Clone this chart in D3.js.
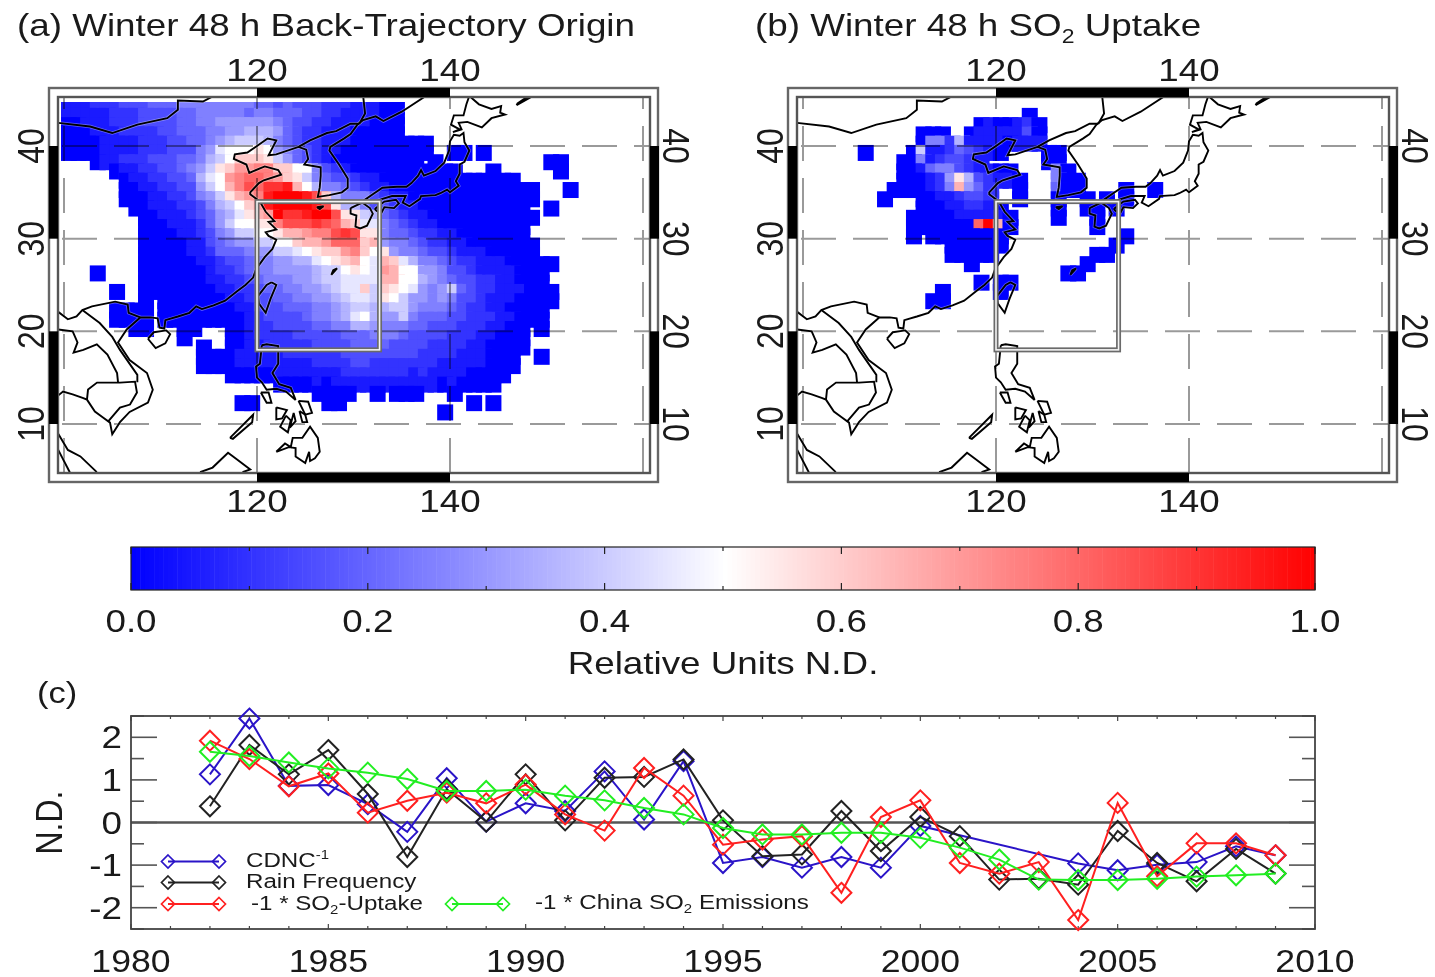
<!DOCTYPE html>
<html>
<head>
<meta charset="utf-8">
<script src="https://cdn.jsdelivr.net/npm/d3@7"></script>
<style>
  html, body { margin: 0; background: #fff; }
  svg { display: block; filter: blur(0.7px); }
  text { font-family: "Liberation Sans", Arial, sans-serif; fill: #1a1a1a; }
</style>
</head>
<body>
<div id="chart"></div>
<script>
const width = 1435;
const height = 977;

// heat map rows, one string per latitude from 44N down, columns from 100E.
// each char is the value in twentieths (0-9, a-k), "." is no data
const latTop = 44;
const lonLeft = 100;
const heatA = [
  "1112223334 4455555555 4434333222 11100",
  "1111122233 3344555554 5544433221 11100",
  "0011122233 3344556666 6654332211 11000",
  "0001112222 3344455667 7764322111 00000",
  "0000111122 2334456788 8754322111 00000000",
  "0000111122 2333569aaa ba65432110 00000000.. 00.0",
  "...0112223 3344578acc cb86432100 0000000.0. .......... 00",
  ".....01122 334568bcee ffccaa5321 0000000000 0...0..... .0",
  "......0112 233479aefg gfecb85433 2110000000 0000000",
  "......0011 223368adfh giijda7554 3211000000 000000000. ..0",
  "......0001 1223568bde fjkkkjhc75 5532110000 000000000",
  ".......001 11223578ac ejkkkkjhb7 7533211000 00000000.. 0",
  "........00 111234679b dekiijkkhb b874321100 000000000",
  "........00 01112468aa bbfhhhihgd c995432110 00000000",
  "........00 0011235688 aabddeffhi hbb5443221 10000000",
  "........00 0001134566 88aacddegg gcd6554322 110000000",
  "........00 0001124445 66889abcce fcab655433 211100000",
  "........00 0000112334 5566779abc da9dc97554 3221110000 0",
  "...0....00 0000012234 556666788a ba9edaa665 3321111000",
  "........00 0000011223 4555667889 999ddaa765 4332211000",
  ".....0..00 0000001122 3445566789 9c8cba9656 8432211100 0",
  "........0. 0000000112 3344556678 998ba86656 5332111000 0",
  ".....0000. 0000000011 3334445567 8877886555 4322110000",
  ".....0000. 0000000001 2333345567 9a76685444 3322211000",
  ".......00. ..00...001 2233334455 7765554433 32221100.0",
  ".......... ..0....001 2222333334 4455543333 22211000",
  ".......... ....0..001 1222223333 4444333322 22110000",
  ".......... ....000011 1112222223 3333333222 2111000..0",
  ".......... ....000011 1111112222 3322222221 1111000",
  ".......... .......000 0011111112 2222221211 110000",
  ".......... .......... ..00001011 1111111110 10000",
  ".......... .......... ......0000 ..0.000... 0",
  ".......... ........00 .......00. .......... ..0.0",
  ".......... .......... .......... .........0"
];
const heatB = [
  ".......... .......... .......... ",
  ".......... .......... ...0",
  ".......... ........01 00120",
  ".......... ..000..011 11130",
  ".......... ..05527111 10111",
  "......0... .081124321 0....00...",
  ".......... 005123321. .....00...",
  ".......... 0014553211 00....50..",
  ".......... 000126b732 110...500.",
  ".........0 000125d642 ..0...400. ...0..0",
  "........0. ..00112332 ..0...0..0 .0.0",
  ".......... ..00011221 0.....0..0 0.0",
  ".......... .000001111 10....0... 0",
  ".......... .0000000gk d0........ 0",
  ".......... .0.0000000 0......... ...0",
  ".......... .....00000 0......... ..0",
  ".......... .....00000 .......... 00",
  ".......... .......0.. .........0",
  ".......... .......... .......00.",
  ".......... ........0. 00",
  ".......... ....0..... 0",
  ".......... ...00"
];

const lonTicks = [120, 140];
const latTicks = [10, 20, 30, 40];
const lonGrid = [100, 120, 140, 160];
const boxLon = [120, 132.7];
const boxLat = [34, 18];
const barTicks = [0, 0.2, 0.4, 0.6, 0.8, 1];

// coast and border lines, lon/lat
const coastMain = [[99.2,9.3],[100.4,7.2],[101.7,6.5],[103.4,4.8]];
const coastMalayW = [[99.4,7.2],[100.6,4.8]];
const coastGulf = [[99.3,13],[99.9,13.5],[100.9,13.2],[102,12.8],[102.38,12.63],[103.2,11.34],[104.04,10.69],[104.77,10.15],[105,8.9],[105.8,10.2],[106.8,11.3],[108.7,12.3],[109.2,13.7],[108.6,15.5],[106.8,16.9],[105.6,18.8],[106.5,20.2],[107.9,21.5],[109,21.5],[109.7,21.4],[109.9,20.4],[110.4,20.3],[110.5,21.2],[111.8,21.6],[113,22],[113.7,22.7],[114.3,22.4],[115.5,22.8],[116.7,23.3],[117.9,24.3],[118.8,25],[119.6,25.8],[119.9,26.7],[120.8,28],[121.6,28.9],[122,29.9],[121.2,30.3],[120.9,30.7],[122,31],[121.2,31.8],[121.8,31.9],[120.9,32.9],[120.3,34],[119.3,34.8],[119.3,35],[120.2,36],[120.7,36.3],[122.5,36.9],[122.2,37.4],[120.8,37.8],[119.2,37.1],[118.9,38],[117.6,38.6],[117.7,39.1],[119,39.3],[120,40],[121.1,40.8],[122,40.6],[121.2,39],[122,39.1],[124.3,39.9],[125.1,39.6],[125.3,38.6],[124.9,38],[126.6,37.7],[126.6,36.8],[126.5,35.5],[126.3,34.5],[127.5,34.7],[128.8,35],[129.4,35.5],[129.4,36.5],[128.5,38],[127.5,39.5],[127.6,39.9],[129,40.8],[129.7,41.3],[130.4,42.3],[131,42.8],[132.3,43.2],[133.1,42.7],[135,43.7],[137.5,45.4]];
const borderMongolia = [[99.4,42.5],[102.7,42.1],[105,41.4],[107.6,42.3],[110.7,43],[111.8,43.9],[111.8,44.9],[114.4,44.8],[115.5,45.4]];
const borderKorea = [[124.3,39.9],[125.5,40.6],[127.25,41.4],[128.2,41.6],[129.7,42.4],[130.6,42.4]];
const borderRussia = [[130.6,42.4],[131.2,43.5],[131,45.4]];
const borderChinaSouth = [[99.4,22.1],[100.4,21.3],[101.3,21.6],[101.9,22.3],[102.9,22.7],[105.3,23.2],[106.6,22.9],[106.7,22],[107.9,21.5]];
const borderLaosThai = [[99.4,20.2],[100.9,20],[101.4,18.8],[101,17.7],[102,18],[103.4,18.6],[104.5,17.5],[105.5,15.5],[105.6,14.5]];
const borderLaosViet = [[101.9,22.3],[103.7,20.9],[105,19.4],[105.8,18],[107.6,15.3],[107.6,14.5]];
const borderCambodia = [[104.56,10.26],[105.8,11.77],[106.84,12.1],[107.56,13.39],[107.36,14.57],[105.8,14.47],[103.42,14.47],[102.49,13.71],[102.38,12.63]];
const borneo = [[114.1,4.8],[115.4,5.3],[117,6.9],[117.9,6.2],[119.3,5.1],[118.5,4.8]];
const palawan = [[117.2,8.5],[119.6,11],[119.5,10.2],[117.5,8.4],[117.2,8.5]];
const luzon = [[120.5,18.5],[120.3,16.5],[119.9,16.2],[120,15],[120.5,14.5],[121,13.7],[122,13.8],[123,13.5],[124,12.6],[123.5,13.9],[122.3,14.3],[121.6,15.5],[122.2,16.5],[122.2,18.4],[121,18.6],[120.5,18.5]];
const mindoro = [[120.4,13.4],[121.2,13.4],[121.5,12.3],[121,12.3],[120.4,13.4]];
const samar = [[124.3,12.5],[125.3,12.4],[125.7,11.2],[125,11],[124.3,12.5]];
const leyte = [[124.4,11.4],[125,11],[125.2,10.2],[124.7,10.2],[124.4,11.4]];
const panay = [[122,11.8],[123.1,11.5],[122.6,10.6],[122,10.5],[122,11.8]];
const negros = [[123,10.9],[123.5,10.4],[123.2,9.1],[122.4,9.7],[123,10.9]];
const cebu = [[123.8,11.2],[124,10.3],[123.4,9.6],[123.8,11.2]];
const mindanao = [[122,7],[122.9,7.9],[123.5,7.5],[123.7,8.5],[124.7,8.5],[125.5,9.7],[126.3,8.5],[126.5,7],[126,6.3],[125.5,6],[125.4,7],[125,5.8],[124,6.5],[124,7.4],[123.3,7.5],[122,7]];
const hainan = [[108.7,19.2],[109.5,18.2],[110.5,18.7],[111,19.7],[110.6,20.1],[109.3,19.9],[108.7,19.2]];
const taiwan = [[121.5,25.3],[122,25],[121.4,23.5],[120.9,22],[120.2,23],[120.1,23.8],[121,25],[121.5,25.3]];
const kyushu = [[129.7,33.3],[130.9,33.9],[131.7,33.3],[132,32.7],[131.4,31.4],[130.7,31.1],[130.2,31.3],[130.3,32.5],[129.7,32.7],[129.7,33.3]];
const shikoku = [[132.2,33.2],[133.2,34],[134.4,34.2],[134.7,33.8],[134.2,33.3],[133.2,33.4],[132.9,32.8],[132.4,33],[132.2,33.2]];
const honshu = [[130.9,34],[132,34.8],[133,35.5],[134.5,35.6],[135.5,35.6],[136,36],[136.7,36.8],[137,37.4],[137.3,36.8],[138.5,37.3],[139.4,38.2],[139.9,39.5],[140,40.5],[140.4,41.2],[141,41.1],[141.4,41.4],[141.5,40.4],[142,39.5],[141.5,38.3],[141,38],[141,37],[140.6,36.2],[140.9,35.7],[140,35],[139.7,35.3],[139,34.9],[138.5,34.7],[137,34.6],[136.9,34.3],[135.8,33.5],[135.1,33.9],[135.4,34.6],[134,34.6],[133,34.3],[132,33.9],[130.9,34]];
const hokkaido = [[140.3,41.5],[141,41.8],[140.1,42.3],[140.4,43.3],[141.4,43.3],[141.7,44.5],[142,45.4],[143,44.5],[144.3,44],[145.3,44.3],[145.2,43.6],[145.7,43.4],[144.3,43],[143.3,42],[141.8,42.6],[140.9,42.5],[141.2,41.8],[140.3,41.5]];
const iturup = [[146.9,44.4],[148.6,45.4],[148,45.3],[147,44.6],[146.9,44.4]];
const okinawa = [[127.7,26.1],[128.3,26.8],[127.9,26.6],[127.7,26.1]];
const jeju = [[126.2,33.4],[126.9,33.5],[126.5,33.2],[126.2,33.4]];
const coasts = [coastMain, coastMalayW, coastGulf, borderMongolia, borderKorea, borderRussia, borderChinaSouth,
  borderLaosThai, borderLaosViet, borderCambodia, borneo, palawan, luzon, mindoro, samar, leyte, panay, negros,
  cebu, mindanao, hainan, taiwan, kyushu, shikoku, honshu, hokkaido, iturup, okinawa, jeju];

// panel c
const years = d3.range(1982, 2010);
const cdnc = [1.13,2.44,.86,.88,.43,-.22,1.04,.02,.45,.27,1.2,.07,1.44,-.95,-.81,-1.06,-.81,-1.06,-.08,null,null,null,-.96,-1.12,-.99,-.93,-.56,-.77];
const rainFreq = [.38,1.82,1.13,1.7,.67,-.81,.78,.02,1.13,.05,1.05,1.07,1.48,.05,-.79,-.75,.27,-.67,.13,-.32,-1.34,-1.32,-1.46,-.2,-.95,-1.38,-.62,-1.2];
const so2Uptake = [1.92,1.49,.85,1.15,.23,.51,.7,.45,.89,.19,-.19,1.28,.63,-.52,-.4,-.32,-1.65,.13,.52,-.95,-1.2,-.93,-2.29,.46,-1.26,-.49,-.49,-.77];
const so2Emissions = [1.66,1.56,1.41,1.27,1.17,1.02,.74,.74,.77,.63,.52,.34,.19,-.13,-.28,-.28,-.24,-.24,-.36,-.59,-.87,-1.34,-1.35,-1.35,-1.32,-1.27,-1.24,-1.2];
const seriesColors = ["#2a14c8", "#222222", "#ff2020", "#22ee22"];
const yearTicks = [1980, 1985, 1990, 1995, 2000, 2005, 2010];
const ndTicks = [-2, -1, 0, 1, 2];

const svg = d3.select("#chart")
  .append("svg")
  .attr("width", width)
  .attr("height", height);

const color = d3.scaleLinear()
  .domain([0, 0.5, 1])
  .range(["#0000ff", "#ffffff", "#ff0000"]);

// the reference is stretched sideways, so the text is too
const stretch = 1.15;

function label(x, y, txt, size, anchor) {
  return svg.append("text")
    .attr("transform", `translate(${x},${y}) scale(${stretch},1)`)
    .attr("text-anchor", anchor || "middle")
    .attr("font-size", size)
    .text(txt);
}

function sideLabel(x, y, txt, size, angle) {
  return svg.append("text")
    .attr("transform", `translate(${x},${y}) rotate(${angle}) scale(1,${stretch})`)
    .attr("text-anchor", "middle")
    .attr("font-size", size)
    .text(txt);
}

const yLat = d3.scaleLinear().domain([10, 40]).range([424, 146]);
const cellSize = 16;

function drawMap(rows, id, x120) {
  const xLon = d3.scaleLinear().domain([120, 140]).range([x120, x120 + 193]);
  const left = x120 - 199, right = x120 + 393, top = 97, bottom = 473;
  const g = svg.append("g");

  const clipHeat = id + "-heat", clipMap = id + "-map";
  const defs = g.append("defs");
  defs.append("clipPath").attr("id", clipHeat).append("rect")
    .attr("x", left + 3).attr("y", top + 5).attr("width", right - left - 3).attr("height", bottom - top - 5);
  defs.append("clipPath").attr("id", clipMap).append("rect")
    .attr("x", left).attr("y", top).attr("width", right - left).attr("height", bottom - top);

  const cells = [];
  rows.forEach((row, r) => {
    row.replace(/ /g, "").split("").forEach((c, i) => {
      if (c !== ".") cells.push({ lon: lonLeft + i, lat: latTop - r, value: parseInt(c, 36) / 20 });
    });
  });

  g.append("g").attr("clip-path", `url(#${clipHeat})`)
    .selectAll("rect")
    .data(cells)
    .enter()
    .append("rect")
    .attr("x", d => xLon(d.lon + 0.5) - cellSize / 2)
    .attr("y", d => yLat(d.lat + 0.25) - cellSize / 2)
    .attr("width", cellSize)
    .attr("height", cellSize)
    .attr("fill", d => color(d.value));

  // grid, dark over the colours
  const grid = g.append("g")
    .attr("clip-path", `url(#${clipMap})`)
    .attr("fill", "none")
    .attr("stroke", "#9a9a9a")
    .attr("stroke-width", 2)
    .style("mix-blend-mode", "multiply");
  grid.selectAll(".latline")
    .data(latTicks)
    .enter()
    .append("line")
    .attr("x1", xLon(100) - 2).attr("x2", right)
    .attr("y1", d => yLat(d)).attr("y2", d => yLat(d))
    .attr("stroke-dasharray", "35 17");
  grid.selectAll(".lonline")
    .data(lonGrid)
    .enter()
    .append("line")
    .attr("x1", d => xLon(d)).attr("x2", d => xLon(d))
    .attr("y1", bottom).attr("y2", top)
    .attr("stroke-dasharray", "35 17");

  // coasts, the light halo comes from the upscaled original
  const coastLine = d3.line().x(d => xLon(d[0])).y(d => yLat(d[1]));
  const land = g.append("g").attr("clip-path", `url(#${clipMap})`).attr("fill", "none");
  land.selectAll(".halo")
    .data(coasts)
    .enter()
    .append("path")
    .attr("d", coastLine)
    .attr("stroke", "#fff")
    .attr("stroke-opacity", 0.35)
    .attr("stroke-width", 3.4);
  land.selectAll(".coast")
    .data(coasts)
    .enter()
    .append("path")
    .attr("d", coastLine)
    .attr("stroke", "#000")
    .attr("stroke-width", 1.9);

  // region box
  const box = g.append("g").attr("fill", "none");
  const boxAttrs = s => s
    .attr("x", xLon(boxLon[0])).attr("y", yLat(boxLat[0]))
    .attr("width", xLon(boxLon[1]) - xLon(boxLon[0]))
    .attr("height", yLat(boxLat[1]) - yLat(boxLat[0]));
  box.append("rect").call(boxAttrs).attr("stroke", "#6a6a6a").attr("stroke-width", 5);
  box.append("rect").call(boxAttrs).attr("stroke", "#f4f4f4").attr("stroke-width", 1.6);

  // double frame with black bars
  const oLeft = left - 9, oRight = right + 8, oTop = top - 9, oBottom = bottom + 9;
  g.append("rect").attr("x", oLeft).attr("y", oTop).attr("width", oRight - oLeft).attr("height", oBottom - oTop)
    .attr("fill", "none").attr("stroke", "#666").attr("stroke-width", 2.4);
  g.append("rect").attr("x", left).attr("y", top).attr("width", right - left).attr("height", bottom - top)
    .attr("fill", "none").attr("stroke", "#555").attr("stroke-width", 2.4);

  [oTop, bottom].forEach(yy => {
    g.append("rect").attr("x", xLon(120)).attr("y", yy)
      .attr("width", xLon(140) - xLon(120)).attr("height", 9).attr("fill", "#000");
  });
  [oLeft, right].forEach(xx => {
    [[30, 40], [10, 20]].forEach(p => {
      g.append("rect").attr("x", xx).attr("y", yLat(p[1]))
        .attr("width", 9).attr("height", yLat(p[0]) - yLat(p[1])).attr("fill", "#000");
    });
  });

  lonTicks.forEach(t => {
    label(xLon(t), 81, t, 32);
    label(xLon(t), 512, t, 32);
  });
  latTicks.forEach(t => {
    sideLabel(x120 - 213, yLat(t), t, 32, -90);
    sideLabel(x120 + 406, yLat(t), t, 32, 90);
  });
}

drawMap(heatA, "a", 257);
drawMap(heatB, "b", 996);

label(17, 36, "(a) Winter 48 h Back-Trajectory Origin", 32, "start");
const titleB = label(755, 36, "(b) Winter 48 h SO", 32, "start");
titleB.append("tspan").attr("font-size", 20).attr("dy", 7).text("2");
titleB.append("tspan").attr("dy", -7).text(" Uptake");

// colour bar
const xBar = d3.scaleLinear().domain([0, 1]).range([131, 1315]);
const barTop = 547, barBottom = 590;
const barG = svg.append("g");
barG.selectAll("rect")
  .data(d3.range(0, 1, 1 / 256))
  .enter()
  .append("rect")
  .attr("x", d => xBar(d))
  .attr("y", barTop)
  .attr("width", xBar(1 / 256) - xBar(0) + 0.5)
  .attr("height", barBottom - barTop)
  .attr("fill", d => color(d));
barG.append("rect")
  .attr("x", xBar(0)).attr("y", barTop)
  .attr("width", xBar(1) - xBar(0)).attr("height", barBottom - barTop)
  .attr("fill", "none").attr("stroke", "#222").attr("stroke-width", 1.2);
d3.range(0, 11).forEach(k => {
  const len = k % 2 === 0 ? 7 : 4;
  [[barTop, barTop + len], [barBottom - len, barBottom]].forEach(p => {
    barG.append("line")
      .attr("x1", xBar(k / 10)).attr("x2", xBar(k / 10))
      .attr("y1", p[0]).attr("y2", p[1])
      .attr("stroke", "#222").attr("stroke-width", 1.2);
  });
});
barTicks.forEach(t => label(xBar(t), 632, t.toFixed(1), 32));
label(723, 674, "Relative Units N.D.", 32);

// panel c
const xYear = d3.scaleLinear().domain([1980, 2010]).range([131, 1315]);
const yNd = d3.scaleLinear().domain([-2.5, 2.5]).range([929, 716]);
const plot = svg.append("g");

d3.range(1980, 2011).forEach(yr => {
  const len = yr % 5 === 0 ? 5 : 3;
  [[716, 716 + len], [929 - len, 929]].forEach(p => {
    plot.append("line")
      .attr("x1", xYear(yr)).attr("x2", xYear(yr))
      .attr("y1", p[0]).attr("y2", p[1])
      .attr("stroke", "#444").attr("stroke-width", 1.2);
  });
});
d3.range(-2.5, 2.51, 0.5).forEach(v => {
  const len = Number.isInteger(v) ? 26 : 13;
  [[131, 131 + len], [1315 - len, 1315]].forEach(p => {
    plot.append("line")
      .attr("x1", p[0]).attr("x2", p[1])
      .attr("y1", yNd(v)).attr("y2", yNd(v))
      .attr("stroke", "#555").attr("stroke-width", 1.6);
  });
});
plot.append("line")
  .attr("x1", xYear(1980)).attr("x2", xYear(2010))
  .attr("y1", yNd(0)).attr("y2", yNd(0))
  .attr("stroke", "#555").attr("stroke-width", 2.4);
plot.append("rect")
  .attr("x", 131).attr("y", 716).attr("width", 1184).attr("height", 213)
  .attr("fill", "none").attr("stroke", "#444").attr("stroke-width", 1.8);

const diamond = r => `M0,${-r}L${r},0L0,${r}L${-r},0Z`;

[cdnc, rainFreq, so2Uptake, so2Emissions].forEach((values, s) => {
  const pts = years.map((yr, i) => ({ yr, v: values[i] })).filter(d => d.v !== null);
  const line = d3.line().x(d => xYear(d.yr)).y(d => yNd(d.v));
  plot.append("path")
    .attr("d", line(pts))
    .attr("fill", "none")
    .attr("stroke", seriesColors[s])
    .attr("stroke-width", 2);
  plot.selectAll(".m" + s)
    .data(pts)
    .enter()
    .append("path")
    .attr("class", "m" + s)
    .attr("d", diamond(10))
    .attr("transform", d => `translate(${xYear(d.yr)},${yNd(d.v)})`)
    .attr("fill", "none")
    .attr("stroke", seriesColors[s])
    .attr("stroke-width", 2);
});

yearTicks.forEach(t => label(xYear(t), 972, t, 31));
ndTicks.forEach(t => label(122, yNd(t) + 11, t, 32, "end"));
label(37, 703, "(c)", 30, "start");
sideLabel(62, yNd(0), "N.D.", 32, -90);

// legend
const legendRows = [
  { x1: 168, x2: 219, y: 861.5, c: seriesColors[0] },
  { x1: 168, x2: 219, y: 882.5, c: seriesColors[1] },
  { x1: 168, x2: 219, y: 904, c: seriesColors[2] },
  { x1: 452, x2: 503, y: 904, c: seriesColors[3] }
];
legendRows.forEach(d => {
  plot.append("line").attr("x1", d.x1).attr("x2", d.x2).attr("y1", d.y).attr("y2", d.y)
    .attr("stroke", d.c).attr("stroke-width", 1.8);
  [d.x1, d.x2].forEach(xx => {
    plot.append("path").attr("d", diamond(6.5)).attr("transform", `translate(${xx},${d.y})`)
      .attr("fill", "none").attr("stroke", d.c).attr("stroke-width", 1.7);
  });
});
const legendCdnc = label(246, 867, "CDNC", 21, "start");
legendCdnc.append("tspan").attr("font-size", 13).attr("dy", -8).text("-1");
label(246, 888, "Rain Frequency", 21, "start");
const legendUptake = label(251, 910, "-1 * SO", 21, "start");
legendUptake.append("tspan").attr("font-size", 13).attr("dy", 4).text("2");
legendUptake.append("tspan").attr("dy", -4).text("-Uptake");
const legendChina = label(535, 909, "-1 * China SO", 21, "start");
legendChina.append("tspan").attr("font-size", 13).attr("dy", 4).text("2");
legendChina.append("tspan").attr("dy", -4).text(" Emissions");
</script>
</body>
</html>
